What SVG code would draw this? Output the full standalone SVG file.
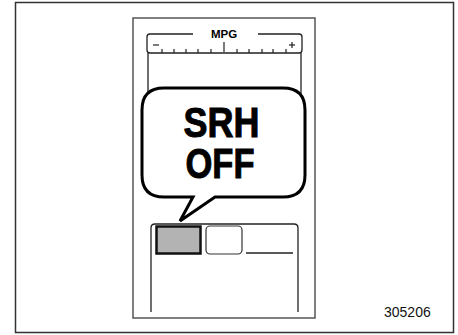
<svg xmlns="http://www.w3.org/2000/svg" width="458" height="335" viewBox="0 0 458 335">
<defs>
<style>
.frame{fill:none;stroke:#333;stroke-width:1.5}
.panel{fill:none;stroke:#555;stroke-width:1.5}
.ln{fill:none;stroke:#222;stroke-width:1.3}
.tick{stroke:#222;stroke-width:1.2}
.big{font-family:"Liberation Sans",Arial,sans-serif;font-weight:bold;font-size:43px;fill:#000;stroke:#000;stroke-width:1}
</style>
</defs>
<rect width="458" height="335" fill="#fff"/>
<rect id="outer-frame" class="frame" x="15.5" y="2.5" width="438" height="330"/>
<g id="device">
<rect class="panel" x="133" y="18" width="182" height="300"/>
</g>
<g id="gauge">
<path class="ln" d="M193,34 H150 Q147,34 147,37 V50 Q147,53 150,53 H299 Q302,53 302,50 V37 Q302,34 299,34 H258"/>
<text x="224" y="38" text-anchor="middle" font-family="Liberation Sans, Arial, sans-serif" font-weight="bold" font-size="11.5">MPG</text>
<line class="tick" x1="153" y1="45" x2="159" y2="45" stroke-width="1.6"/>
<line class="tick" x1="289" y1="45" x2="295" y2="45" stroke-width="1.6"/>
<line class="tick" x1="292" y1="42" x2="292" y2="48" stroke-width="1.6"/>
<line class="tick" x1="224" y1="42" x2="224" y2="52" stroke-width="2"/>
<g class="tick">
<line x1="162" y1="49" x2="162" y2="53"/>
<line x1="174" y1="49" x2="174" y2="53"/>
<line x1="186" y1="49" x2="186" y2="53"/>
<line x1="198" y1="49" x2="198" y2="53"/>
<line x1="211" y1="49" x2="211" y2="53"/>
<line x1="237" y1="49" x2="237" y2="53"/>
<line x1="249" y1="49" x2="249" y2="53"/>
<line x1="262" y1="49" x2="262" y2="53"/>
<line x1="273" y1="49" x2="273" y2="53"/>
<line x1="286" y1="49" x2="286" y2="53"/>
</g>
<line class="ln" x1="148" y1="53" x2="148" y2="100"/>
<line class="ln" x1="301" y1="53" x2="301" y2="100"/>
</g>
<g id="lower-display">
<path class="ln" d="M151,312 V228 Q151,224 155,224 H294 Q298,224 298,228 V312" stroke="#444" stroke-width="1.5"/>
<rect x="156.5" y="226.5" width="44" height="27" fill="#b3b3b3" stroke="#111" stroke-width="2.5"/>
<rect x="206" y="226" width="36" height="28" rx="4" fill="#fff" stroke="#333" stroke-width="1.2"/>
<line class="ln" x1="246" y1="253" x2="293" y2="253"/>
</g>
<g id="bubble">
<path d="M164,88 H283 Q305,88 305,110 V175 Q305,197 283,197 H215 L180,221 L193,197 H164 Q142,197 142,175 V110 Q142,88 164,88 Z" fill="#fff" stroke="#000" stroke-width="3" stroke-linejoin="miter"/>
<text class="big" x="183.5" y="137" textLength="76" lengthAdjust="spacingAndGlyphs">SRH</text>
<text class="big" x="185.5" y="178" textLength="69" lengthAdjust="spacingAndGlyphs">OFF</text>
</g>
<g id="connectors"></g>
<text x="384" y="317" font-family="Liberation Sans, Arial, sans-serif" font-size="14" fill="#111">305206</text>
</svg>
